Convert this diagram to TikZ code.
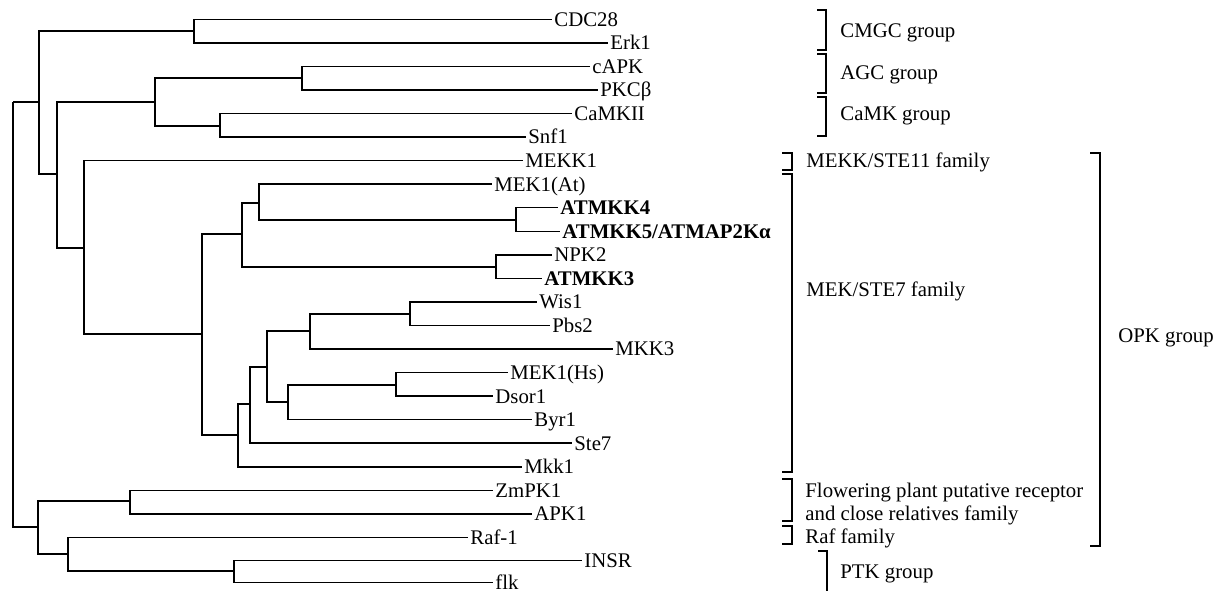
\documentclass[tikz,border=0pt]{standalone}
\usepackage{fontspec}
\setmainfont{Liberation Serif}
\usetikzlibrary{positioning}

\begin{document}
\begin{tikzpicture}[x=0.5pt, y=-0.5pt,
leaf/.style={anchor=west, inner sep=1pt, text height=6.9pt, text depth=0pt, font=\fontsize{10.4}{12.5}\selectfont},
lab/.style={anchor=west, inner sep=0pt, text height=6.9pt, text depth=0pt, font=\fontsize{10.4}{12.5}\selectfont},
branch/.style={line width=0.75pt},
bracket/.style={line width=1pt}
]
\useasboundingbox (0,0) rectangle (1221,591);

\node[leaf] (cdc28) at (552,19.3) {CDC28};
\node[leaf] (erk1) at (608,42.9) {Erk1};
\node[leaf] (capk) at (590,66.4) {cAPK};
\node[leaf] (pkcb) at (598,90) {PKCβ};
\node[leaf] (camkii) at (572,113.5) {CaMKII};
\node[leaf] (snf1) at (526,137) {Snf1};
\node[leaf] (mekk1) at (523,160.6) {MEKK1};
\node[leaf] (mekat) at (492,184.2) {MEK1(At)};
\node[leaf, font=\fontsize{10.4}{12.5}\selectfont\bfseries] (atmkk4) at (558,207.7) {ATMKK4};
\node[leaf, font=\fontsize{10.4}{12.5}\selectfont\bfseries] (atmkk5) at (560,231.3) {ATMKK5/ATMAP2Kα};
\node[leaf] (npk2) at (552,254.8) {NPK2};
\node[leaf, font=\fontsize{10.4}{12.5}\selectfont\bfseries] (atmkk3) at (542,278.4) {ATMKK3};
\node[leaf] (wis1) at (537,301.9) {Wis1};
\node[leaf] (pbs2) at (550,325.5) {Pbs2};
\node[leaf] (mkk3) at (613,349) {MKK3};
\node[leaf] (mekhs) at (508,372.6) {MEK1(Hs)};
\node[leaf] (dsor1) at (493,396.1) {Dsor1};
\node[leaf] (byr1) at (532,419.7) {Byr1};
\node[leaf] (ste7) at (572,443.2) {Ste7};
\node[leaf] (mkk1) at (522,466.8) {Mkk1};
\node[leaf] (zmpk1) at (493,490.3) {ZmPK1};
\node[leaf] (apk1) at (532,513.9) {APK1};
\node[leaf] (raf1) at (468,537.4) {Raf-1};
\node[leaf] (insr) at (582,560.5) {INSR};
\node[leaf] (flk) at (493,582.5) {flk};

\coordinate (root) at (13,102);
\coordinate (nA) at (39,102);
\coordinate (nC) at (194,31);
\coordinate (nB) at (57,174);
\coordinate (nD) at (155,102);
\coordinate (nF) at (302,78);
\coordinate (nG) at (220,126);
\coordinate (nE) at (84,248);
\coordinate (nH) at (202,334);
\coordinate (nI) at (242,234);
\coordinate (nK) at (259,203);
\coordinate (nM) at (516,220);
\coordinate (nL) at (496,267);
\coordinate (nJ) at (238,435);
\coordinate (nN) at (250,404);
\coordinate (nO) at (267,367);
\coordinate (nQ) at (310,331);
\coordinate (nS) at (410,314);
\coordinate (nR) at (288,402);
\coordinate (nT) at (396,385);
\coordinate (nP) at (38,527);
\coordinate (nU) at (130,501);
\coordinate (nV) at (68,554);
\coordinate (nW) at (234,571);

\draw[branch] (root) |- (nA);
\draw[branch] (root) |- (nP);
\draw[branch] (nA) |- (nC);
\draw[branch] (nA) |- (nB);
\draw[branch] (nC) |- (cdc28.west);
\draw[branch] (nC) |- (erk1.west);
\draw[branch] (nB) |- (nD);
\draw[branch] (nB) |- (nE);
\draw[branch] (nD) |- (nF);
\draw[branch] (nD) |- (nG);
\draw[branch] (nF) |- (capk.west);
\draw[branch] (nF) |- (pkcb.west);
\draw[branch] (nG) |- (camkii.west);
\draw[branch] (nG) |- (snf1.west);
\draw[branch] (nE) |- (mekk1.west);
\draw[branch] (nE) |- (nH);
\draw[branch] (nH) |- (nI);
\draw[branch] (nH) |- (nJ);
\draw[branch] (nI) |- (nK);
\draw[branch] (nI) |- (nL);
\draw[branch] (nK) |- (mekat.west);
\draw[branch] (nK) |- (nM);
\draw[branch] (nM) |- (atmkk4.west);
\draw[branch] (nM) |- (atmkk5.west);
\draw[branch] (nL) |- (npk2.west);
\draw[branch] (nL) |- (atmkk3.west);
\draw[branch] (nJ) |- (nN);
\draw[branch] (nJ) |- (mkk1.west);
\draw[branch] (nN) |- (nO);
\draw[branch] (nN) |- (ste7.west);
\draw[branch] (nO) |- (nQ);
\draw[branch] (nO) |- (nR);
\draw[branch] (nQ) |- (nS);
\draw[branch] (nQ) |- (mkk3.west);
\draw[branch] (nS) |- (wis1.west);
\draw[branch] (nS) |- (pbs2.west);
\draw[branch] (nR) |- (nT);
\draw[branch] (nR) |- (byr1.west);
\draw[branch] (nT) |- (mekhs.west);
\draw[branch] (nT) |- (dsor1.west);
\draw[branch] (nP) |- (nU);
\draw[branch] (nP) |- (nV);
\draw[branch] (nU) |- (zmpk1.west);
\draw[branch] (nU) |- (apk1.west);
\draw[branch] (nV) |- (raf1.west);
\draw[branch] (nV) |- (nW);
\draw[branch] (nW) |- (insr.west);
\draw[branch] (nW) |- (flk.west);

\draw[bracket] (817,10) -| (826,50) -- (817,50);
\draw[bracket] (817,54) -| (826,93) -- (817,93);
\draw[bracket] (817,97) -| (826,136) -- (817,136);
\draw[bracket] (782,153) -| (792,170) -- (782,170);
\draw[bracket] (782,174) -| (792,472) -- (782,472);
\draw[bracket] (782,479) -| (792,521) -- (782,521);
\draw[bracket] (782,526) -| (792,544) -- (782,544);
\draw[bracket] (1090,153) -| (1100,546) -- (1090,546);
\draw[bracket] (818,551) -| (827,591);

\node[lab] (cmgc) at (840,31) {CMGC group};
\node[lab] (agc) at (840,73) {AGC group};
\node[lab] (camk) at (840,114) {CaMK group};
\node[lab] (mekkfam) at (806,161) {MEKK/STE11 family};
\node[lab] (mekfam) at (806,290) {MEK/STE7 family};
\node[lab] (flowa) at (805,491) {Flowering plant putative receptor};
\node[lab] (flowb) at (805,514) {and close relatives family};
\node[lab] (raffam) at (805,537) {Raf family};
\node[lab] (opk) at (1118,336) {OPK group};
\node[lab] (ptk) at (840,572) {PTK group};
\end{tikzpicture}
\end{document}
